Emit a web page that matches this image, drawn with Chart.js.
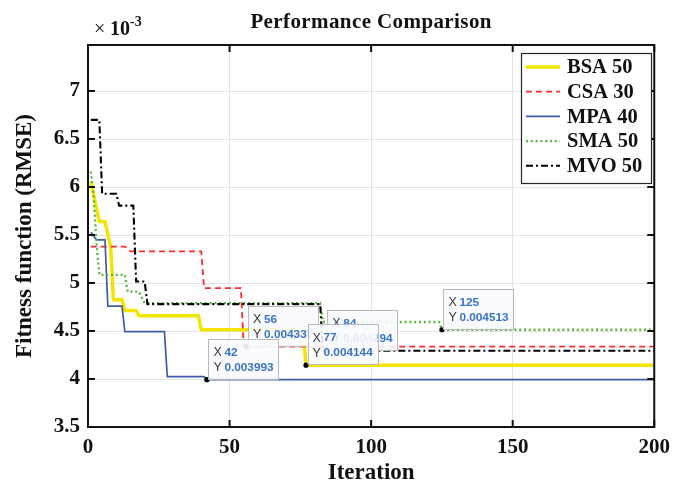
<!DOCTYPE html>
<html><head><meta charset="utf-8">
<script src="https://cdn.jsdelivr.net/npm/chart.js@4.4.1/dist/chart.umd.min.js"></script>
<style>html,body{margin:0;padding:0;background:#fff;}canvas{display:block;}</style>
</head><body>
<canvas id="c" width="678" height="485"></canvas>
<script>
// ---- text ----
const titleText = 'Performance Comparison';
const xAxisTitle = 'Iteration';
const yAxisTitle = 'Fitness function (RMSE)';
const yExponentBase = '10';
const yExponent = '-3';
// ---- ticks ----
const xTickValues = [0, 50, 100, 150, 200];
const yTickValues = [3.5, 4, 4.5, 5, 5.5, 6, 6.5, 7];
// ---- series (values in units of 1e-3) ----
const seriesNames = ['BSA 50', 'CSA 30', 'MPA 40', 'SMA 50', 'MVO 50'];
const bsaIter = [1, 4, 6, 8, 9, 12, 13, 17, 18, 39, 40, 76, 77, 200];
const bsaVal  = [6.06, 5.64, 5.64, 5.38, 4.825, 4.825, 4.714, 4.714, 4.658, 4.658, 4.512, 4.512, 4.144, 4.144];
const csaIter = [1, 13, 15, 40, 41, 54, 55, 200];
const csaVal  = [5.38, 5.38, 5.33, 5.33, 4.946, 4.946, 4.337, 4.337];
const mpaIter = [1, 3, 6, 7, 12, 13, 27, 28, 41, 42, 200];
const mpaVal  = [5.53, 5.45, 5.45, 4.76, 4.76, 4.494, 4.494, 4.025, 4.025, 3.993, 3.993];
const smaIter = [1, 2, 3, 4, 13, 14, 18, 20, 82, 83, 124, 125, 200];
const smaVal  = [6.16, 5.9, 5.42, 5.085, 5.085, 4.91, 4.91, 4.79, 4.79, 4.594, 4.594, 4.513, 4.513];
const mvoIter = [1, 4, 5, 10, 11, 16, 17, 20, 21, 82, 83, 200];
const mvoVal  = [6.70, 6.70, 5.93, 5.93, 5.806, 5.806, 5.016, 5.016, 4.78, 4.78, 4.294, 4.294];
// ---- data tips ----
const tipIter = [56, 84, 42, 77, 125];
const tipVal  = [4.337, 4.294, 3.993, 4.144, 4.513];

const SERIF = '"Liberation Serif", "Times New Roman", serif';
const SANS = '"Liberation Sans", Arial, sans-serif';

function pts(xs, ys) { return xs.map((x, i) => ({ x: x, y: ys[i] })); }

const seriesStyle = [
  { color: '#f2e600', width: 3.5, dash: [], order: 5 },
  { color: '#ff2a2a', width: 1.8, dash: [6, 4], order: 4 },
  { color: '#3f5ca8', width: 1.7, dash: [], order: 3 },
  { color: '#55b53e', width: 2.3, dash: [2, 2.8], order: 2 },
  { color: '#000000', width: 2.1, dash: [7, 3, 2, 3], order: 1 }
];
const seriesIter = [bsaIter, csaIter, mpaIter, smaIter, mvoIter];
const seriesVal = [bsaVal, csaVal, mpaVal, smaVal, mvoVal];

const datasets = seriesNames.map((name, i) => ({
  label: name,
  data: pts(seriesIter[i], seriesVal[i]),
  borderColor: seriesStyle[i].color,
  backgroundColor: seriesStyle[i].color,
  borderWidth: seriesStyle[i].width,
  borderDash: seriesStyle[i].dash,
  order: seriesStyle[i].order,
  pointRadius: 0,
  pointHoverRadius: 0,
  fill: false,
  tension: 0
}));

const decorPlugin = {
  id: 'decor',
  afterDatasetsDraw(chart) {
    const ctx = chart.ctx;
    const a = chart.chartArea;
    const xs = chart.scales.x, ys = chart.scales.y;
    ctx.save();
    // axes box
    ctx.strokeStyle = '#111';
    ctx.lineWidth = 2;
    ctx.strokeRect(a.left, a.top, a.right - a.left, a.bottom - a.top);
    // inward ticks
    const tl = 7;
    ctx.beginPath();
    yTickValues.forEach(v => {
      const y = ys.getPixelForValue(v);
      ctx.moveTo(a.left, y); ctx.lineTo(a.left + tl, y);
      ctx.moveTo(a.right, y); ctx.lineTo(a.right - tl, y);
    });
    xTickValues.forEach(v => {
      const x = xs.getPixelForValue(v);
      ctx.moveTo(x, a.bottom); ctx.lineTo(x, a.bottom - tl);
      ctx.moveTo(x, a.top); ctx.lineTo(x, a.top + tl);
    });
    ctx.stroke();

    // data tips
    tipIter.forEach((it, i) => {
      const px = xs.getPixelForValue(it);
      const py = ys.getPixelForValue(tipVal[i]);
      ctx.fillStyle = '#000';
      ctx.beginPath(); ctx.arc(px, py, 2.6, 0, Math.PI * 2); ctx.fill();
      const bx = px + 1.5, by = py - 41, bw = 70, bh = 40;
      ctx.fillStyle = 'rgba(249,251,254,0.9)';
      ctx.fillRect(bx, by, bw, bh);
      ctx.strokeStyle = '#b9b9b9';
      ctx.lineWidth = 1;
      ctx.strokeRect(Math.round(bx) + 0.5, Math.round(by) + 0.5, bw, bh);
      ctx.textBaseline = 'middle';
      ctx.textAlign = 'left';
      ctx.font = '12.5px ' + SANS;
      ctx.fillStyle = '#3a3a3a';
      ctx.fillText('X', bx + 5, by + 14);
      ctx.fillText('Y', bx + 5, by + 29);
      ctx.font = 'bold 11.8px ' + SANS;
      ctx.fillStyle = '#3a74c4';
      ctx.fillText(String(it), bx + 16, by + 14);
      ctx.fillText((tipVal[i] / 1000).toFixed(6), bx + 16, by + 29);
    });

    // legend
    const lx = 521.5, ly = 53.5, lw = 130, lh = 130;
    ctx.fillStyle = '#fff';
    ctx.fillRect(lx, ly, lw, lh);
    ctx.strokeStyle = '#262626';
    ctx.lineWidth = 1.2;
    ctx.strokeRect(lx, ly, lw, lh);
    ctx.font = 'bold 20.5px ' + SERIF;
    ctx.textBaseline = 'middle';
    ctx.textAlign = 'left';
    chart.data.datasets.forEach((ds, i) => {
      const cy = 67 + i * 24.7;
      ctx.save();
      ctx.strokeStyle = ds.borderColor;
      ctx.lineWidth = ds.borderWidth;
      ctx.setLineDash(ds.borderDash || []);
      ctx.beginPath(); ctx.moveTo(526, cy); ctx.lineTo(560, cy); ctx.stroke();
      ctx.restore();
      ctx.fillStyle = '#111';
      ctx.fillText(ds.label, 567, cy + 1);
    });

    // title
    ctx.fillStyle = '#111';
    ctx.textAlign = 'center';
    ctx.textBaseline = 'middle';
    ctx.font = 'bold 21px ' + SERIF;
    try { ctx.letterSpacing = '0.4px'; } catch (e) {}
    ctx.fillText(titleText, (a.left + a.right) / 2, 23);
    try { ctx.letterSpacing = '0px'; } catch (e) {}

    // exponent label
    ctx.textAlign = 'left';
    ctx.textBaseline = 'alphabetic';
    ctx.font = '20px ' + SERIF;
    ctx.fillText('\u00d7', 94, 35);
    ctx.font = 'bold 20px ' + SERIF;
    ctx.fillText(yExponentBase, 110, 35);
    ctx.font = 'bold 14px ' + SERIF;
    ctx.fillText(yExponent, 130, 26);
    ctx.restore();
  }
};

new Chart(document.getElementById('c'), {
  type: 'line',
  data: { datasets: datasets },
  plugins: [decorPlugin],
  options: {
    responsive: false,
    animation: false,
    devicePixelRatio: 1,
    layout: { padding: { top: 45, right: 17, left: 0, bottom: 0 } },
    plugins: { legend: { display: false }, tooltip: { enabled: false }, title: { display: false } },
    events: [],
    scales: {
      x: {
        type: 'linear', min: 0, max: 200,
        afterBuildTicks: s => { s.ticks = xTickValues.map(v => ({ value: v })); },
        afterFit: s => { s.height = 58; },
        ticks: { padding: 8, maxRotation: 0, autoSkip: false, color: '#111',
          font: { family: SERIF, size: 21, weight: 'bold', lineHeight: 1.2 },
          callback: v => String(v) },
        grid: { color: '#e3e3e3', lineWidth: 1, drawTicks: false },
        border: { display: false },
        title: { display: true, text: xAxisTitle, color: '#111',
          font: { family: SERIF, size: 23, weight: 'bold', lineHeight: 1.0 },
          padding: { top: 0, bottom: 0 } }
      },
      y: {
        type: 'linear', min: 3.5, max: 7.48,
        afterBuildTicks: s => { s.ticks = yTickValues.map(v => ({ value: v })); },
        afterFit: s => { s.width = 88; },
        ticks: { padding: 8, color: '#111',
          font: { family: SERIF, size: 21, weight: 'bold', lineHeight: 1.2 },
          callback: v => String(v) },
        grid: { color: '#e3e3e3', lineWidth: 1, drawTicks: false },
        border: { display: false },
        title: { display: true, text: yAxisTitle, color: '#111',
          font: { family: SERIF, size: 23, weight: 'bold', lineHeight: 1.2 },
          padding: { top: 11, bottom: 0 } }
      }
    }
  }
});
</script>
</body></html>
